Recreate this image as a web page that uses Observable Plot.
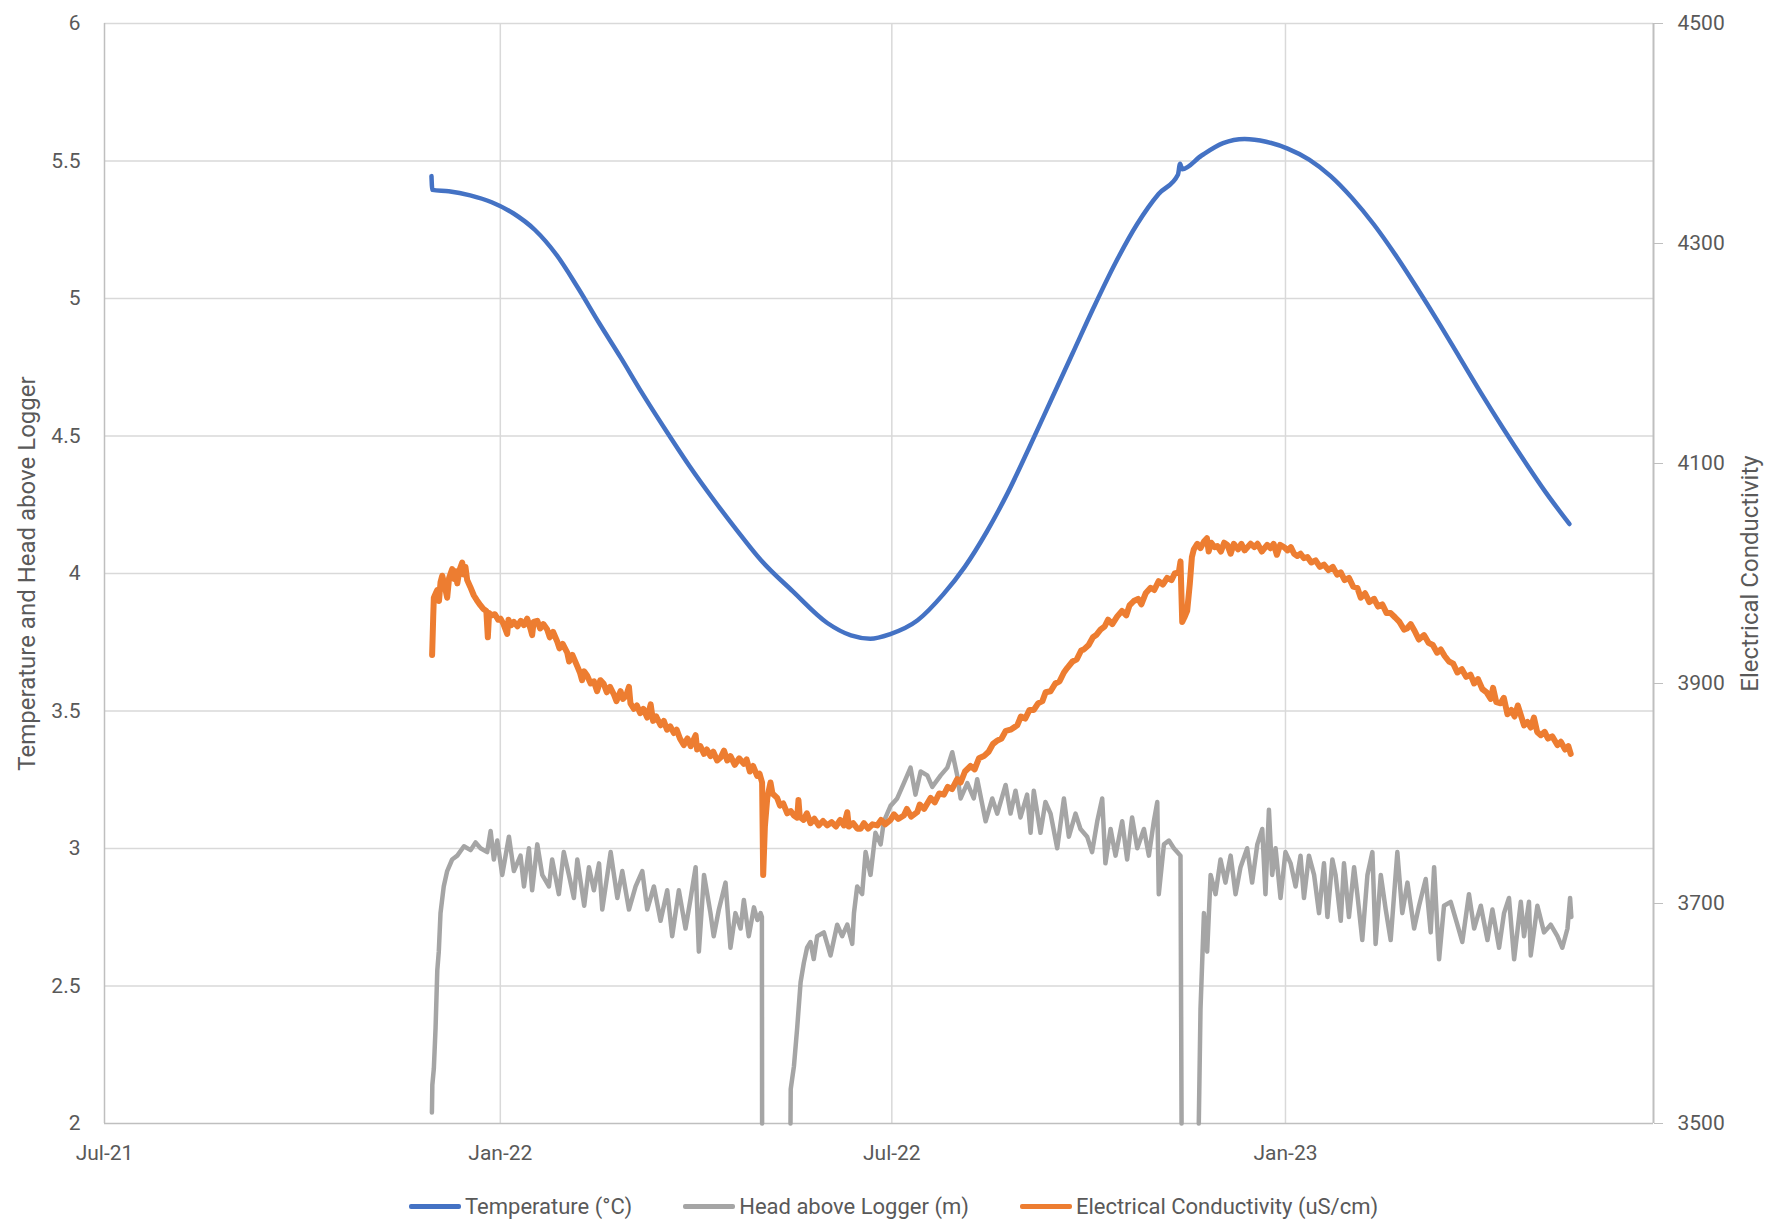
<!DOCTYPE html>
<html>
<head>
<meta charset="utf-8">
<script src="https://cdn.jsdelivr.net/npm/d3@7"></script>
<script src="https://cdn.jsdelivr.net/npm/@observablehq/plot@0.6"></script>
<style>
  body { margin: 0; background: #fff; font-family: Roboto, "Open Sans", sans-serif; }
  #wrap { position: relative; width: 1775px; height: 1225px; background: #fff; }
  #legend { position: absolute; left: 409px; top: 1194px; display: flex; align-items: center; font-size: 22px; color: #595959; white-space: nowrap; }
  .item { display: flex; align-items: center; margin-right: 51px; }
  .sw { width: 52px; height: 4.5px; margin-right: 4px; border-radius: 2px; }
</style>
</head>
<body>
<div id="wrap"><div id="chart"></div><div id="legend"></div></div>
<script>
// x values are days since 1 Jul 2021
const xTickDates = ["2021-07-01", "2022-01-01", "2022-07-02", "2023-01-01"];
const xDomainDates = ["2021-07-01T00:00Z", "2023-06-21T02:00Z"];
const leftTicks = [2, 2.5, 3, 3.5, 4, 4.5, 5, 5.5, 6];
const ecTicks = [3500, 3700, 3900, 4100, 4300, 4500];
const seriesNames = ["Temperature (°C)", "Head above Logger (m)", "Electrical Conductivity (uS/cm)"];
const seriesColors = ["#4472C4", "#A5A5A5", "#ED7D31"];

// Temperature (°C): [day, value]
const temperature = [
  [152,5.445],[152.4,5.395],[160,5.39],[170,5.375],[180,5.35],[190,5.31],[200,5.25],[210,5.16],[220,5.04],[230,4.91],
  [240,4.785],[250,4.655],[261,4.52],[272,4.39],[283,4.27],[294,4.157],[305,4.05],[320,3.935],[336,3.82],[347,3.775],
  [356,3.763],[365,3.779],[378,3.83],[390,3.925],[400,4.025],[410,4.15],[420,4.295],[430,4.46],[440,4.63],[450,4.80],
  [460,4.97],[470,5.13],[480,5.27],[490,5.38],[499,5.45],[500,5.49],[501,5.47],[510,5.52],[520,5.565],[530,5.58],
  [540,5.57],[550,5.545],[560,5.505],[570,5.445],[580,5.365],[590,5.27],[600,5.16],[610,5.04],[620,4.915],[630,4.785],
  [640,4.655],[650,4.53],[660,4.41],[670,4.295],[681,4.18]
];

// Head above Logger (m): [day, value]  (null = logger out, line broken)
const head = [
  [152.2,2.04],[152.4,2.14],[153.1,2.20],[153.9,2.347],[154.7,2.556],[155.4,2.625],[156.2,2.765],[157.7,2.862],[159.3,2.918],[161.6,2.96],
  [164,2.974],[167.1,3.008],[170.2,2.994],[172.5,3.022],[174.8,3.001],[177.9,2.987],[179.5,3.064],[181,2.96],[182.6,3.029],[184.9,2.904],
  [188,3.043],[190.3,2.918],[193.4,2.974],[195,2.862],[197.3,3.001],[198.8,2.848],[201.2,3.015],[203.5,2.904],[206.6,2.862],[208.1,2.96],
  [211.2,2.834],[213.5,2.987],[215.9,2.904],[218.2,2.82],[219.8,2.96],[223,2.792],[225.2,2.932],[227.5,2.848],[229.9,2.946],[231.4,2.778],
  [235.3,2.987],[238.4,2.82],[240.7,2.918],[243.8,2.778],[246.9,2.862],[250,2.918],[252.3,2.778],[255.4,2.862],[258.5,2.737],[261.6,2.848],
  [263.9,2.681],[267,2.848],[270.1,2.709],[272.5,2.82],[274.8,2.932],[276.3,2.625],[278.7,2.904],[281.7,2.765],[283.2,2.681],[285.6,2.778],
  [288.7,2.876],[291,2.639],[293.3,2.765],[295.7,2.709],[297.2,2.813],[299.5,2.681],[301.9,2.786],[303.5,2.74],[305,2.765],[305.6,2.751],
  [305.7,2.0],[312,null],[318.9,2.0],[319,2.125],[320.5,2.208],[322,2.347],[323.6,2.514],[325.1,2.584],[326.6,2.639],[328.2,2.66],
  [329.7,2.598],[331.3,2.681],[334.4,2.695],[337.5,2.611],[340.6,2.723],[342.9,2.681],[345.3,2.723],[347.6,2.653],[348.4,2.765],[349.9,2.862],
  [352.2,2.834],[353.8,2.987],[356.1,2.904],[358.4,3.057],[360.8,3.015],[362.3,3.099],[365.4,3.155],[368.5,3.182],[371.6,3.238],[374.7,3.294],
  [377,3.196],[379.4,3.28],[382.5,3.266],[384.8,3.224],[388.7,3.266],[391.8,3.294],[394.1,3.35],[396.4,3.266],[398,3.182],[401.1,3.238],
  [404.1,3.182],[405.7,3.252],[409.6,3.099],[412.7,3.182],[415,3.127],[418.9,3.231],[421.2,3.127],[423.5,3.21],[425.8,3.113],[428.9,3.196],
  [430.5,3.057],[432,3.21],[435.1,3.057],[437.4,3.169],[439.8,3.127],[442.9,3.001],[446,3.182],[448.3,3.043],[451.4,3.127],[453.7,3.071],
  [456.8,3.043],[459.1,2.987],[461.5,3.099],[463.8,3.182],[465.3,2.946],[467.7,3.071],[470,2.974],[473.1,3.099],[475.4,2.96],[477.7,3.113],
  [480.1,3.001],[483.2,3.071],[485.5,2.974],[487.8,3.099],[489.4,3.169],[490.1,2.834],[492.5,3.015],[494.8,3.029],[497.1,3.001],[500.2,2.974],
  [500.7,2.0],[504,null],[508.7,2.0],[509.5,2.416],[511.1,2.765],[512.6,2.625],[514.2,2.904],[516.5,2.834],[518.8,2.96],[521.1,2.876],
  [523.5,2.974],[525.8,2.834],[528.1,2.932],[531.2,3.001],[533.5,2.876],[535.9,3.015],[538.2,3.071],[539.7,2.834],[541.3,3.141],[542.8,2.904],
  [544.4,3.001],[546.7,2.82],[549,2.987],[551.4,2.946],[553.7,2.862],[556,2.974],[557.6,2.82],[559.9,2.974],[562.3,2.904],[564.6,2.765],
  [566.9,2.946],[568.5,2.751],[570.8,2.96],[572.3,2.904],[574.7,2.737],[576.2,2.946],[578.5,2.751],[580.9,2.932],[582.4,2.834],[584.7,2.667],
  [587.1,2.904],[589.4,2.987],[590.9,2.653],[593.3,2.904],[595.6,2.778],[597.9,2.667],[601,2.987],[603.3,2.765],[605.7,2.876],[608.8,2.709],
  [611.1,2.792],[614.2,2.889],[616.5,2.695],[618.1,2.932],[620.4,2.597],[622.7,2.792],[625.8,2.806],[628.9,2.723],[631.2,2.66],[634.3,2.834],
  [636.7,2.709],[639.8,2.792],[642.9,2.667],[645.2,2.778],[648.3,2.639],[650.6,2.765],[652.9,2.82],[655.3,2.597],[658.4,2.806],[659.9,2.681],
  [662.2,2.806],[663,2.611],[666.1,2.792],[669.2,2.695],[672.3,2.723],[675.4,2.681],[677.7,2.639],[680.1,2.709],[681.3,2.82],[681.9,2.751]
];

// Electrical Conductivity (uS/cm): [day, value]
const conductivity = [
  [152.3,3926],[152.8,3960],[153.1,3978],[154,3982],[154.7,3985],[155.5,3975],[156.2,3992],[157,3998],[158,3990],[159.3,3978],
  [160.2,3996],[161.6,4004],[162.5,3995],[163.2,4002],[164,3991],[165,4003],[166.3,4010],[167,3999],[167.8,4006],[168.6,3994],
  [170,3988],[171.7,3980],[173,3976],[174.8,3971],[176,3968],[177.5,3966],[178.2,3942],[178.8,3964],[180,3962],[181.5,3963],
  [183,3958],[184.1,3959],[185.5,3954],[187.2,3945],[187.8,3958],[189,3953],[190.3,3956],[192,3952],[193.5,3957],[195,3953],
  [196.5,3959],[198,3950],[198.8,3944],[199.5,3956],[201.2,3957],[202.5,3950],[204,3954],[205.8,3949],[207,3942],[208.5,3947],
  [210.5,3938],[211.5,3932],[213,3936],[215.1,3928],[216,3920],[217.5,3926],[219.7,3916],[221,3910],[222,3903],[223,3911],
  [224.4,3907],[226,3900],[227.5,3902],[229,3893],[230.5,3903],[232,3900],[233.5,3892],[235,3897],[236.8,3890],[238,3884],
  [239.9,3893],[241,3886],[242.5,3889],[243.8,3897],[244.5,3882],[246.1,3877],[247.5,3880],[249,3873],[250.5,3877],[252.3,3869],
  [253.9,3881],[255,3866],[256.5,3870],[258.5,3862],[260,3866],[261.5,3858],[263,3861],[264.7,3855],[266,3858],[267.5,3850],
  [269.3,3844],[271,3850],[272.5,3843],[274.8,3853],[275.5,3840],[277,3843],[278.7,3836],[280,3840],[281.7,3834],[283,3838],
  [284.8,3830],[286.5,3833],[288,3839],[289.5,3830],[291,3834],[293,3826],[295,3832],[297.2,3827],[298.5,3831],[300,3820],
  [301.5,3825],[303.4,3816],[304.5,3818],[305.7,3810],[306.2,3726],[307,3770],[308.1,3796],[309.6,3810],[310.5,3800],[312.7,3796],
  [314,3789],[315.5,3791],[317.4,3782],[319,3784],[320.5,3780],[322,3778],[322.6,3794],[323.2,3779],[325,3776],[326.5,3782],
  [328.2,3773],[330,3777],[332,3771],[334,3775],[336,3771],[338,3774],[340,3770],[342,3776],[343.7,3771],[345.3,3783],
  [346,3770],[348,3773],[350,3768],[351.5,3768],[353,3773],[355,3768],[357,3772],[359.2,3771],[361,3776],[363,3772],
  [365.4,3776],[367,3781],[369,3777],[371.6,3780],[373,3786],[375,3779],[377.8,3783],[379,3790],[381,3786],[384,3796],
  [386,3792],[388,3800],[390.2,3799],[392,3806],[394,3804],[396.4,3813],[398,3810],[400,3820],[402.6,3825],[404.5,3822],
  [406.5,3832],[408.8,3834],[411,3838],[413,3845],[415,3848],[417,3850],[419,3857],[421.2,3858],[424.3,3862],[426,3870],
  [428,3868],[430,3876],[432,3876],[434,3882],[436,3884],[437.5,3892],[439.8,3893],[442,3900],[444,3902],[446,3910],
  [447.5,3914],[450,3920],[452,3922],[454,3930],[455.3,3931],[457.5,3935],[459.5,3942],[461,3944],[463,3949],[465,3952],
  [466.5,3958],[468.5,3954],[470.8,3961],[473,3966],[475,3962],[476.5,3971],[478.5,3975],[480.5,3977],[482,3972],[484,3982],
  [486.3,3987],[488,3985],[490,3993],[492,3990],[494,3996],[496,3994],[497.5,4000],[499.4,4001],[500.2,4011],[501,3956],
  [502,3960],[503.3,3966],[504.5,3990],[505.5,4015],[506.4,4022],[508,4027],[509.5,4023],[511.1,4029],[512.5,4032],[513.3,4020],
  [514.5,4028],[516,4024],[517.3,4025],[519,4020],[520.5,4028],[522,4026],[523.5,4018],[525,4027],[527,4022],[528.5,4027],
  [530,4021],[532.8,4027],[534.5,4024],[536,4027],[538,4020],[540.5,4026],[542,4023],[543.5,4027],[545,4017],[546.5,4026],
  [548.3,4024],[550,4021],[551.5,4024],[553,4018],[554.5,4016],[556,4018],[557.5,4014],[559.2,4015],[561,4010],[563,4012],
  [565,4006],[566.9,4008],[569,4003],[571,4006],[573,3999],[574.7,4001],[576.5,3994],[578.5,3996],[580.5,3988],[582.4,3987],
  [584,3978],[586,3982],[588,3974],[590.2,3977],[592,3970],[594,3972],[596,3964],[597.9,3964],[600,3960],[602,3956],
  [604.1,3949],[605.5,3950],[607.2,3954],[609,3948],[611,3940],[613.4,3944],[615.5,3937],[617.5,3935],[619.5,3928],[621.2,3931],
  [623,3925],[625,3920],[627,3918],[628.9,3910],[631,3913],[633,3906],[635,3908],[636.7,3900],[638.5,3904],[640.5,3895],
  [642.5,3892],[644.4,3886],[645.5,3896],[647,3883],[649,3882],[650.5,3887],[652.2,3872],[654,3876],[655.5,3870],[657,3880],
  [659.9,3862],[661.5,3865],[663,3860],[664.5,3869],[666,3856],[667.7,3853],[669.5,3856],[671,3850],[673,3852],[675.4,3844],
  [677,3847],[679,3840],[680.5,3843],[681.6,3836]
];

const T0 = Date.UTC(2021, 6, 1);
const toDate = d => new Date(T0 + d * 864e5);
const xDomain = xDomainDates.map(s => new Date(s));
const xTicks = xTickDates.map(s => new Date(s + "T00:00Z"));
// secondary axis (EC 3500–4500) mapped onto the primary axis (2–6)
const ecToLeft = ec => 2 + (ec - 3500) / 250;
const leftToEc = v => String(Math.round(3500 + (v - 2) * 250));

const tempRows = temperature.map(([d, v]) => ({x: toDate(d), y: v}));
const headRows = head.map(([d, v]) => ({x: toDate(d), y: v}));
const ecRows = conductivity.map(([d, v]) => ({x: toDate(d), y: ecToLeft(v)}));

const chart = Plot.plot({
  width: 1775,
  height: 1180,
  marginLeft: 104,
  marginRight: 122,
  marginTop: 23,
  marginBottom: 57,
  x: {type: "utc", domain: xDomain},
  y: {domain: [2, 6]},
  style: {fontFamily: "Roboto, 'Open Sans', sans-serif", fontSize: "21px", color: "#595959", background: "#fff", overflow: "visible"},
  marks: [
    Plot.ruleY(leftTicks.slice(1), {stroke: "#d9d9d9", strokeWidth: 1.5}),
    Plot.ruleX(xTicks.slice(1), {stroke: "#d9d9d9", strokeWidth: 1.5}),
    Plot.axisY({ticks: leftTicks, tickSize: 0, tickPadding: 24, tickFormat: d => String(d), label: null, fill: "#595959"}),
    Plot.axisY({anchor: "right", ticks: ecTicks.map(ecToLeft), tickFormat: leftToEc, tickSize: 9, tickPadding: 15, stroke: "#bfbfbf", label: null, fill: "#595959"}),
    Plot.axisX({ticks: xTicks, tickFormat: d3.utcFormat("%b-%y"), tickSize: 0, tickPadding: 22, label: null, fill: "#595959"}),
    Plot.ruleX([xDomain[0]], {stroke: "#bfbfbf", strokeWidth: 1.5}),
    Plot.ruleX([xDomain[1]], {stroke: "#bfbfbf", strokeWidth: 2}),
    Plot.ruleY([2], {stroke: "#bfbfbf", strokeWidth: 1.5}),
    Plot.line(tempRows, {x: "x", y: "y", stroke: seriesColors[0], strokeWidth: 4.5, curve: "monotone-x", strokeLinejoin: "round", strokeLinecap: "round"}),
    Plot.line(headRows, {x: "x", y: "y", stroke: seriesColors[1], strokeWidth: 4.5, strokeLinejoin: "round", strokeLinecap: "round"}),
    Plot.line(ecRows, {x: "x", y: "y", stroke: seriesColors[2], strokeWidth: 6, strokeLinejoin: "round", strokeLinecap: "round"}),
    Plot.text(["Temperature and Head above Logger"], {frameAnchor: "left", rotate: -90, dx: -77, textAnchor: "middle", fill: "#595959", fontSize: 24}),
    Plot.text(["Electrical Conductivity"], {frameAnchor: "right", rotate: -90, dx: 97, textAnchor: "middle", fill: "#595959", fontSize: 24})
  ]
});
document.getElementById("chart").appendChild(chart);

const legend = document.getElementById("legend");
seriesNames.forEach((name, i) => {
  const item = document.createElement("div");
  item.className = "item";
  const sw = document.createElement("div");
  sw.className = "sw";
  sw.style.background = seriesColors[i];
  const label = document.createElement("span");
  label.textContent = name;
  item.appendChild(sw);
  item.appendChild(label);
  legend.appendChild(item);
});
</script>
</body>
</html>
